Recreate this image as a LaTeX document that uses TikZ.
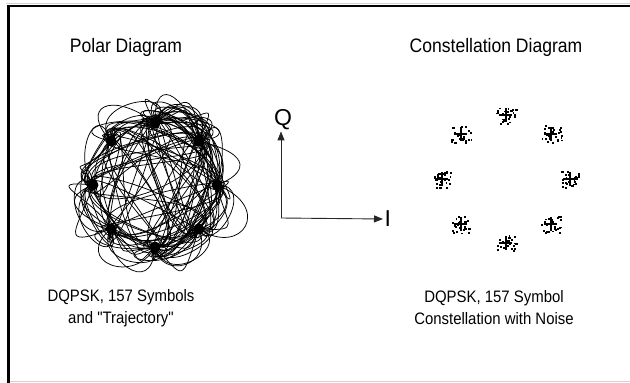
\documentclass[tikz,border=0pt]{standalone}
\usepackage{fontspec}
\setmainfont{Liberation Sans}
\newfontfamily\narrowsans[FakeStretch=0.9]{Liberation Sans}
\usetikzlibrary{arrows.meta}
\tikzset{
  title/.style={font=\narrowsans\fontsize{19.5}{24}\selectfont, inner sep=0pt, anchor=base},
  caption/.style={font=\narrowsans\fontsize{16.6}{22}\selectfont, align=center, inner sep=0pt},
  axlab/.style={font=\fontsize{23}{26}\selectfont, inner sep=1pt},
  axisline/.style={line width=0.9pt, draw=black!85, -{Triangle[length=9pt,width=7pt]}},
  traj/.style={line width=0.75pt, black},
  symdot/.style={circle, fill=black, inner sep=0pt, minimum size=11pt},
  frameline/.style={line width=2.5pt, black},
  noisedot/.style={fill=black},
}
\begin{document}
\begin{tikzpicture}[x=1pt,y=-1pt]
\useasboundingbox (0,0) rectangle (630,383);
% frame
\draw[gray!35, line width=0.8pt] (6,3.2) -- (630,3.2);
\draw[gray!35, line width=0.8pt] (10,381.8) -- (630,381.8);
\draw[frameline] (8.6,383) -- (8.6,5.8) -- (630,5.8);

% titles
\node[title] (t1) at (126,52) {Polar Diagram};
\node[title] (t2) at (496,52) {Constellation Diagram};

% captions
\node[caption] (c1) at (121,308) {DQPSK, 157 Symbols\\and "Trajectory"};
\node[caption] (c2) at (494,308) {DQPSK, 157 Symbol\\Constellation with Noise};

% polar diagram
\begin{scope}[shift={(155,185)}]
\pgfmathsetseed{11}
\gdef\cur{90}
\foreach \k in {1,...,157}{
  \pgfmathparse{int(random(0,3))}\let\ri\pgfmathresult
  \ifcase\ri \def\dd{45}\or\def\dd{-45}\or\def\dd{135}\or\def\dd{-135}\fi
  \pgfmathsetmacro\nxt{mod(\cur+\dd+720,360)}
  \pgfmathsetmacro\ta{\cur+105*rand}
  \pgfmathsetmacro\tb{\nxt+105*rand}
  \pgfmathsetmacro\la{26+36*rnd}
  \pgfmathsetmacro\lb{26+36*rnd}
  \draw[traj] (\cur:62) .. controls ([shift={(\ta:\la)}]\cur:62) and ([shift={(\tb:\lb)}]\nxt:62) .. (\nxt:62);
  \xdef\cur{\nxt}
}
\foreach \i in {0,...,7}{
  \node[symdot] (p\i) at (\i*45:62) {};
}
\end{scope}

% axes
\coordinate (o) at (281,218);
\node[axlab] (q) at (283,120) {Q};
\node[axlab, anchor=west, inner sep=1.5pt] (iax) at (383,219) {I};
\draw[axisline] (o) -- (o |- q.south);
\draw[axisline] (o) -- (iax.west);

% constellation
\begin{scope}[shift={(506,179)}]
\pgfmathsetseed{5}
\foreach \i in {0,...,7}{
  \coordinate (s\i) at (\i*45:64);
  \draw[line width=1.8pt] ([xshift=-7pt]s\i) -- ([xshift=6pt]s\i);
  \draw[line width=1.8pt] ([yshift=-7pt]s\i) -- ([yshift=7pt]s\i);
  \foreach \j in {1,...,28}{
    \pgfmathsetmacro\px{10*rand}
    \pgfmathsetmacro\py{8.5*rand}
    \fill[noisedot] ([shift={(\px,\py)}]s\i) rectangle ++(1.9,1.9);
  }
}
\end{scope}
\end{tikzpicture}
\end{document}
